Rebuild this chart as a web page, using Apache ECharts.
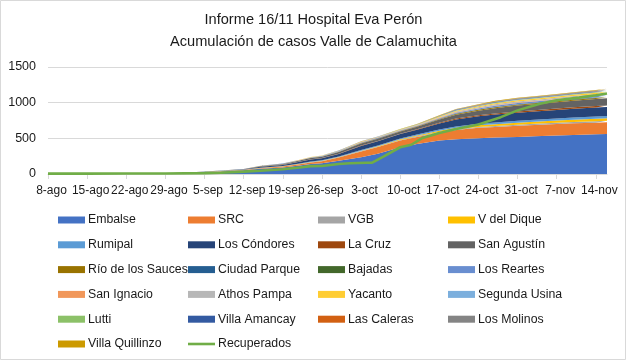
<!DOCTYPE html>
<html>
<head>
<meta charset="utf-8">
<script src="https://cdn.jsdelivr.net/npm/echarts@6/dist/echarts.min.js"></script>
<style>
html,body{margin:0;padding:0;background:#fff;}
#c{width:627px;height:361px;}
</style>
</head>
<body>
<div id="c"></div>
<script>
// ---- DATA ----
// sample days, counted from 8-ago
const sampleDays = [0,7,14,21,25,28,31,35,38,42,45,47,49,52,56,59,63,66,70,73,77,80,84,87,91,94,98,100];
const embalse      = [0,0,1,5,12,22,35,52,72,90,120,140,150,185,235,285,375,420,470,488,502,510,520,530,540,548,556,562];
const src          = [0,0,0,1,2,3,4,6,10,14,18,22,30,45,82,92,95,100,110,130,145,150,155,158,160,162,164,165];
const vgb          = [1,1,1,1,1,1,1,1,2,2,3,3,3,4,5,6,7,8,10,11,13,14,16,17,18,19,20,20];
const vDelDique    = [1,1,1,1,1,2,2,2,2,3,3,4,4,4,5,7,10,12,15,18,22,25,28,29,32,33,35,36];
const rumipal      = [1,1,1,1,2,2,2,2,3,3,4,5,5,6,9,10,12,14,18,20,22,24,26,27,28,29,30,30];
const losCondores  = [0,0,0,1,1,2,2,3,12,15,24,30,30,38,58,58,60,65,85,98,105,110,115,116,120,123,126,128];
const laCruz       = [0,0,0,0,0,0,0,0,1,1,2,2,3,3,5,6,7,8,10,12,14,15,17,18,19,20,21,21];
const sanAgustin   = [0,1,1,1,2,2,3,3,8,10,14,18,18,22,30,30,31,35,45,55,65,74,82,84,90,94,98,100];
const rioSauces    = [0,0,1,1,1,1,1,1,2,2,3,3,3,4,5,5,5,6,8,10,11,12,13,13,14,14,15,15];
const ciudadParque = [0,0,0,0,0,0,0,0,0,0,0,1,1,1,1,1,1,1,2,3,3,4,4,4,4,5,5,5];
const bajadas      = [0,0,0,0,0,0,0,0,0,0,0,0,0,1,1,1,1,1,1,2,2,3,3,3,3,4,4,4];
const losReartes   = [0,0,0,0,0,0,0,0,1,2,3,4,4,5,6,6,7,7,9,12,13,15,16,16,17,17,19,20];
const sanIgnacio   = [0,0,0,0,0,0,0,0,0,1,1,1,1,2,3,3,3,3,4,6,6,7,8,8,8,9,9,10];
const athosPampa   = [0,0,0,0,0,0,0,0,1,1,2,3,3,4,5,5,5,6,9,11,12,14,15,15,16,16,17,18];
const yacanto      = [0,0,0,0,0,0,0,0,1,1,2,2,3,3,4,5,5,5,9,12,14,16,17,17,18,18,19,20];
const segundaUsina = [0,0,0,0,0,0,0,0,0,0,0,0,0,0,1,1,1,1,2,3,4,4,5,5,5,5,6,6];
const lutti        = [0,0,0,0,0,0,0,0,0,0,0,0,0,0,0,0,1,1,2,3,3,4,4,4,4,4,5,5];
const villaAmancay = [0,0,0,0,0,0,0,0,0,1,1,1,1,1,1,1,1,2,4,5,6,7,7,7,7,7,8,8];
const lasCaleras   = [0,0,0,0,0,0,0,0,0,0,0,0,0,0,0,0,0,0,1,2,2,3,3,3,3,3,4,4];
const losMolinos   = [0,0,0,0,0,0,0,0,0,0,0,1,1,1,2,2,2,2,4,5,6,7,8,8,8,8,9,9];
const villaQuillinzo=[0,0,0,0,0,0,0,0,0,0,0,0,0,1,2,3,3,3,4,5,7,8,8,8,9,9,9,9];
// Recuperados (own sample days)
const recDays = [0,7,14,21,28,31,35,38,42,45,47,49,52,54,57,58,60,63,65,67,70,73,77,81,84,88,91,95,98,100];
const recuperados = [5,5,6,8,12,18,33,45,66,90,110,113,140,150,158,160,245,375,410,505,576,632,694,797,892,986,1033,1071,1104,1128];
// x tick labels (one per week from 8-ago)
const tickDays = [0,7,14,21,28,35,42,49,56,63,70,77,84,91,98];
const tickLabels = ['8-ago','15-ago','22-ago','29-ago','5-sep','12-sep','19-sep','26-sep','3-oct','10-oct','17-oct','24-oct','31-oct','7-nov','14-nov'];
const yTicks = [0,500,1000,1500];

const areaNames = ['Embalse','SRC','VGB','V del Dique','Rumipal','Los Cóndores','La Cruz','San Agustín','Río de los Sauces','Ciudad Parque','Bajadas','Los Reartes','San Ignacio','Athos Pampa','Yacanto','Segunda Usina','Lutti','Villa Amancay','Las Caleras','Los Molinos','Villa Quillinzo'];
const areaValues = [embalse,src,vgb,vDelDique,rumipal,losCondores,laCruz,sanAgustin,rioSauces,ciudadParque,bajadas,losReartes,sanIgnacio,athosPampa,yacanto,segundaUsina,lutti,villaAmancay,lasCaleras,losMolinos,villaQuillinzo];
const areaColors = ['#4472C4','#ED7D31','#A5A5A5','#FFC000','#5B9BD5','#264478','#9E480E','#636363','#997300','#255E91','#43682B','#698ED0','#F1975A','#B7B7B7','#FFCD33','#7CAFDD','#8CC168','#335AA1','#D26012','#848484','#CC9A00'];

// ---- CHART ----
const labelMap = {};
tickDays.forEach((d,i)=>{ labelMap[d] = tickLabels[i]; });

const FONT = "'Liberation Sans', Arial, sans-serif";
const TXT = '#1a1a1a';

// data stored as [value, day] so the stacked dimension is the value (y)
const series = areaNames.map((n,i)=>({
  name:n, type:'line', stack:'total', symbol:'none', showSymbol:false,
  encode:{x:1, y:0},
  lineStyle:{width:0}, areaStyle:{color:areaColors[i], opacity:1},
  itemStyle:{color:areaColors[i]}, emphasis:{disabled:true},
  data: sampleDays.map((d,k)=>[areaValues[i][k], d]), z:2
}));
series.push({
  name:'Recuperados', type:'line', symbol:'none', showSymbol:false,
  encode:{x:1, y:0},
  lineStyle:{width:2.6,color:'#70AD47'}, itemStyle:{color:'#70AD47'},
  emphasis:{disabled:true}, z:5,
  data: recDays.map((d,k)=>[recuperados[k], d])
});

const cols = [
  ['Embalse','Rumipal','Río de los Sauces','San Ignacio','Lutti','Villa Quillinzo'],
  ['SRC','Los Cóndores','Ciudad Parque','Athos Pampa','Villa Amancay','Recuperados'],
  ['VGB','La Cruz','Bajadas','Yacanto','Las Caleras'],
  ['V del Dique','San Agustín','Los Reartes','Segunda Usina','Los Molinos']
];
const colLeft = [53,183,313,443];
const legends = cols.map((c,i)=>({
  orient:'vertical', left:colLeft[i], top:207,
  itemWidth:27, itemHeight:7, itemGap:8.8,
  selectedMode:false, symbolKeepAspect:true,
  textStyle:{fontFamily:FONT, fontSize:12.3, color:TXT, lineHeight:16, padding:[0,0,0,-2]},
  data:c.map(n=> n==='Recuperados' ? {name:n, icon:'path://M0,0h27v2.6h-27z'} : {name:n, icon:'rect'})
}));

const chart = echarts.init(document.getElementById('c'), null, {renderer:'canvas'});
chart.setOption({
  animation:false,
  backgroundColor:'#fff',
  title:{
    text:'Informe 16/11 Hospital Eva Perón\nAcumulación de casos Valle de Calamuchita',
    left:'center', top:4,
    textStyle:{fontFamily:FONT, fontSize:14.6, fontWeight:'normal', color:TXT, lineHeight:22}
  },
  graphic:[{type:'rect', shape:{x:0.5,y:0.5,width:625,height:359}, style:{fill:'none', stroke:'#D9D9D9', lineWidth:1}, silent:true, z:-1}],
  legend: legends,
  grid:{left:48, right:20, top:67, bottom:187, containLabel:false},
  xAxis:{
    type:'value', min:0, max:100, interval:7,
    axisLine:{lineStyle:{color:'#D9D9D9'}},
    axisTick:{show:true, length:5, lineStyle:{color:'#D9D9D9'}, customValues: tickDays},
    axisLabel:{fontFamily:FONT, fontSize:12, color:TXT, margin:11, hideOverlap:false,
      showMinLabel:true, showMaxLabel:true, padding:[0,0,0,7],
      customValues: tickDays, formatter: v => labelMap[v] || ''},
    splitLine:{show:false}
  },
  yAxis:{
    type:'value', min:yTicks[0], max:yTicks[yTicks.length-1], interval:500,
    axisLine:{show:false}, axisTick:{show:false},
    axisLabel:{fontFamily:FONT, fontSize:12.5, color:TXT, margin:12, formatter: v => String(v)},
    splitLine:{lineStyle:{color:'#D9D9D9'}}
  },
  series: series
});
</script>
</body>
</html>
